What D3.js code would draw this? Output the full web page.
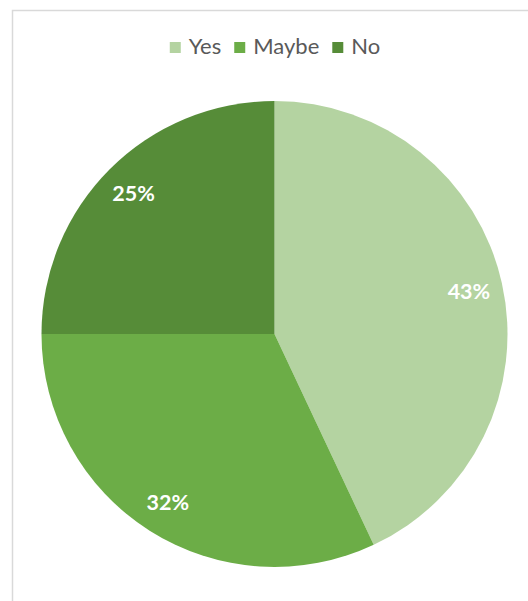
<!DOCTYPE html>
<html>
<head>
<meta charset="utf-8">
<script src="https://cdn.jsdelivr.net/npm/d3@7/dist/d3.min.js"></script>
<style>
  html, body { margin: 0; padding: 0; background: #ffffff; }
  svg { display: block; }
</style>
</head>
<body>
<svg id="chart" width="528" height="601"></svg>
<script>
// Survey answers and their shares (percent)
const categories = ["Yes", "Maybe", "No"];
const shares = [43, 32, 25];
const labels = ["43%", "32%", "25%"];
const colors = ["#b4d3a1", "#6cad47", "#568c38"];

const width = 528, height = 601;
const svg = d3.select("#chart");

// Chart frame
svg.append("rect")
  .attr("x", 12.5).attr("y", 10.5)
  .attr("width", 540).attr("height", 620)
  .attr("fill", "#ffffff")
  .attr("stroke", "#d9d9d9")
  .attr("stroke-width", 1.5);

const cx = 274.5, cy = 334, R = 233;

const pie = d3.pie().sort(null).value(d => d)
  .startAngle(0).endAngle(2 * Math.PI);
const arcs = pie(shares);

const arc = d3.arc().innerRadius(0).outerRadius(R);
const labelArc = d3.arc().innerRadius(R * 0.855).outerRadius(R * 0.855);

const g = svg.append("g").attr("transform", `translate(${cx},${cy})`);

g.selectAll("path.slice")
  .data(arcs)
  .join("path")
  .attr("class", "slice")
  .attr("d", arc)
  .attr("fill", (d, i) => colors[i]);

g.selectAll("text.value")
  .data(arcs)
  .join("text")
  .attr("class", "value")
  .attr("transform", d => `translate(${labelArc.centroid(d)})`)
  .attr("text-anchor", "middle")
  .attr("dominant-baseline", "central")
  .attr("font-family", "Lato, 'Open Sans', sans-serif")
  .attr("font-weight", "bold")
  .attr("font-size", 21.5)
  .attr("fill", "#ffffff")
  .text((d, i) => labels[i]);

// Legend, centred above the pie
const legend = svg.append("g");
const sq = 11, gapIn = 8, gapOut = 13;
let x = 0;
const items = legend.selectAll("g.item")
  .data(categories)
  .join("g")
  .attr("class", "item");
items.append("rect")
  .attr("width", sq).attr("height", sq)
  .attr("y", -sq / 2 - 1)
  .attr("fill", (d, i) => colors[i]);
items.append("text")
  .attr("x", sq + gapIn)
  .attr("y", 5.5)
  .attr("font-family", "Lato, 'Open Sans', sans-serif")
  .attr("font-size", 22)
  .attr("fill", "#595959")
  .text(d => d);
items.each(function () {
  const t = d3.select(this).select("text").node().getComputedTextLength();
  d3.select(this).attr("transform", `translate(${x},0)`);
  x += sq + gapIn + t + gapOut;
});
const total = x - gapOut;
legend.attr("transform", `translate(${275 - total / 2},48.5)`);
</script>
</body>
</html>
